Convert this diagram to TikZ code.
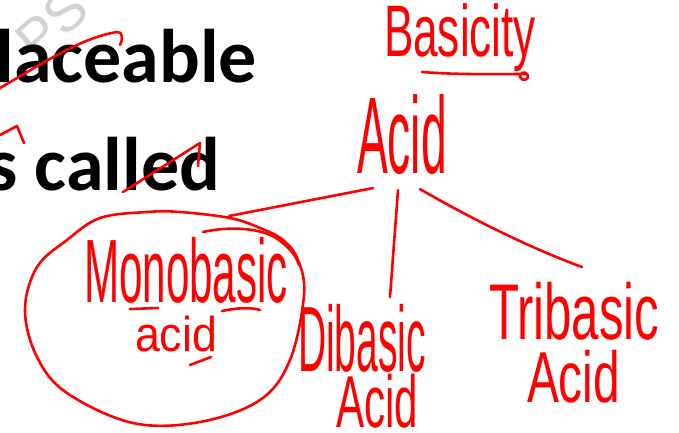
\documentclass[tikz,border=0pt]{standalone}
\usepackage{fontspec}
\setmainfont{Liberation Sans}
\newfontfamily\calib{Carlito}
\usepackage{graphicx}
\usetikzlibrary{calc}
\definecolor{pen}{RGB}{255,0,0}
\definecolor{wmark}{RGB}{210,210,210}
\newcommand{\hwfit}[3]{\resizebox*{#1pt}{#2pt}{#3}}
\begin{document}
\begin{tikzpicture}[x=1pt,y=-1pt,
  pen/.style={draw=pen, line width=2.6pt, line cap=round, line join=round},
  hw/.style={inner sep=0pt, outer sep=0pt, anchor=north west, text=pen},
  slide/.style={inner sep=0pt, outer sep=0pt, anchor=base east, text=black,
    font=\calib\bfseries\fontsize{76}{80}\selectfont}]
\useasboundingbox (0,0) rectangle (679,433);
\fill[white] (0,0) rectangle (679,433);
\clip (0,0) rectangle (679,433);

% watermark
\node[text=wmark, rotate=42, inner sep=0pt, font=\fontsize{56}{56}\selectfont] (wm) at (52,24) {PS};

% slide text
\node[slide] (l1) at (257,83) {laceable};
\node[slide] (l2) at (220,190) {s called};

% handwritten labels
\node[hw] (basicity) at (384,4) {\hwfit{152}{68}{Basicity}};
\node[hw] (acid) at (357,94) {\hwfit{90}{80}{Acid}};
\node[hw] (mono) at (84,237) {\hwfit{204}{66}{Monobasic}};
\node[hw] (monoacid) at (135,316) {\hwfit{82}{36}{acid}};
\node[hw] (di) at (298,304) {\hwfit{128}{68}{Dibasic}};
\node[hw] (diacid) at (336,374) {\hwfit{82}{54}{Acid}};
\node[hw] (tri) at (489,282) {\hwfit{170}{58}{Tribasic}};
\node[hw] (triacid) at (527,350) {\hwfit{93}{53}{Acid}};

% strike-outs on slide text
\draw[pen] (0,88) .. controls (40,65) and (80,38) .. (117,32) .. controls (123,31) and (123,40) .. (120,45);
\draw[pen] (0,135) -- (17,126) -- (24,143);
\draw[pen] (123,192) -- (200,143) -- (198,166);

% underline of Basicity
\draw[pen] (422,72) .. controls (460,75) and (500,74) .. (527,74)
  .. controls (531,80) and (522,82) .. (520,77) .. controls (519,73) and (525,71) .. (527,74);

% underlines in Monobasic acid
\draw[pen] (130,309) -- (158,308);
\draw[pen] (222,311) .. controls (236,308) and (250,307) .. (260,310);
\draw[pen] (190,365) -- (211,357);

% circle round Monobasic acid
\draw[pen] plot[smooth cycle, tension=0.6] coordinates {
  (25,310) (37,267) (67,240) (100,218) (147,212) (180,212) (230,218) (260,228)
  (283,240) (298,260) (304,295) (290,360) (260,400) (200,422) (133,423)
  (67,393) (37,357)};
\draw[pen] (203,232) .. controls (230,226) and (260,228) .. (276,238) .. controls (288,246) and (296,255) .. (299,265);

% branches
\coordinate (m1) at (229,216);
\draw[pen] ($(acid.south)+(-29,14)$) -- (m1);
\draw[pen] ($(acid.south)+(-4,16)$) -- ($(di.north)+(28,-7)$);
\draw[pen] ($(acid.south)+(18,15)$) .. controls (470,218) and (530,248) .. ($(tri.north)+(8,-15)$);
\end{tikzpicture}
\end{document}
